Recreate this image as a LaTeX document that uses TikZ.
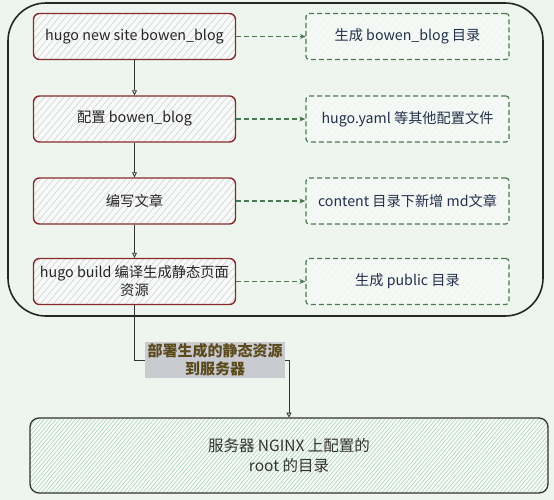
\documentclass[tikz,border=0pt]{standalone}
\usepackage{fontspec}
\setmainfont{Noto Sans CJK SC}
\usetikzlibrary{arrows.meta,patterns.meta}

\definecolor{bgpaper}{HTML}{EEF5EF}
\definecolor{redline}{HTML}{8A2B2B}
\definecolor{greenline}{HTML}{4A7A52}
\definecolor{navytext}{HTML}{22304A}
\definecolor{tagfill}{HTML}{C9CBD1}
\definecolor{tagtext}{HTML}{5B4A1C}
\definecolor{hatchgreen}{HTML}{A9D3B4}

\tikzset{
	srcbox/.style={draw=redline, line width=1.4pt, rounded corners=6pt, minimum width=202pt, minimum height=46pt, inner sep=2pt, align=center, text=black!85, font=\fontsize{14.3}{18}\selectfont, preaction={fill=white!55!bgpaper}, pattern={Lines[angle=50,distance=5pt,line width=0.5pt]}, pattern color=black!20},
	outbox/.style={draw=greenline, line width=1.2pt, dash pattern=on 5pt off 3pt, rounded corners=3pt, minimum width=203pt, minimum height=46pt, align=center, text=navytext, font=\fontsize{14.2}{18}\selectfont, preaction={fill=white!40!bgpaper}, pattern={Lines[angle=50,distance=5pt,line width=0.4pt]}, pattern color=black!6},
	dashlink/.style={draw=greenline, line width=1.2pt, dash pattern=on 5pt off 3pt, -{Stealth[length=6pt,width=5pt]}},
	flow/.style={draw=black!80, line width=0.8pt, -{Triangle[open,length=5pt,width=5pt]}},
	tagbox/.style={fill=tagfill, text=tagtext, align=center, minimum width=140pt, minimum height=36pt, inner sep=1pt, font=\fontsize{15}{18}\selectfont\bfseries},
	nginxbox/.style={draw=black!80, line width=1.3pt, rounded corners=9pt, minimum width=518pt, minimum height=75pt, align=center, text=black!80, font=\fontsize{15.5}{20}\selectfont, preaction={fill=white!60!bgpaper}, pattern={Lines[angle=50,distance=3pt,line width=0.6pt]}, pattern color=hatchgreen}
}

\begin{document}
\begin{tikzpicture}[x=1pt, y=-1pt]
	\fill[bgpaper] (0,0) rectangle (554,500);
	\useasboundingbox (0,0) rectangle (554,500);
	\draw[line width=1.6pt, draw=black!85, rounded corners=38pt] (8,3) rectangle (543,316);
	\foreach \i/\y/\a/\b in {1/36.5/{hugo new site bowen\_blog}/{生成 bowen\_blog 目录}, 2/119/{配置 bowen\_blog}/{hugo.yaml 等其他配置文件}, 3/201/{编写文章}/{content 目录下新增 md文章}, 4/281.5/{hugo build 编译生成静态页面\\资源}/{生成 public 目录}}
	{
		\node[srcbox] (s\i) at (134.5, \y) {\a};
		\node[outbox] (o\i) at (407.5, \y) {\b};
		\draw[dashlink] (s\i) -- (o\i);
	}
	\foreach \i/\j in {1/2, 2/3, 3/4}
		\draw[flow] (s\i) -- (s\j);
	\node[tagbox] (dep) at (215, 360) {部署生成的静态资源\\到服务器};
	\node[nginxbox] (ng) at (289, 455.5) {服务器 NGINX 上配置的\\root 的目录};
	\draw[draw=black!80, line width=0.8pt] (s4) |- (dep.west);
	\draw[flow] (dep.east) -| (ng.north);
\end{tikzpicture}
\end{document}
